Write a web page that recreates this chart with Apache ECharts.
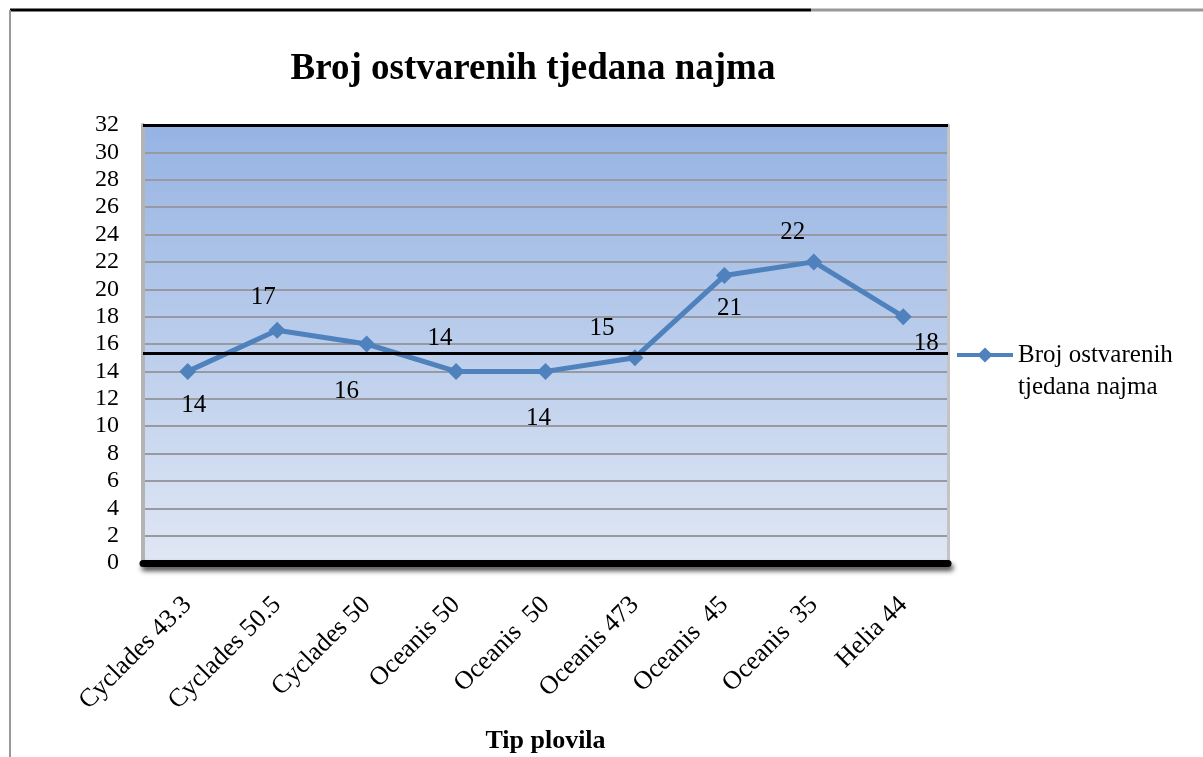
<!DOCTYPE html>
<html>
<head>
<meta charset="utf-8">
<script src="https://cdn.jsdelivr.net/npm/echarts@6/dist/echarts.min.js"></script>
<style>
  html, body { margin: 0; padding: 0; background: #fff; }
  #chart { width: 1203px; height: 757px; }
</style>
</head>
<body>
<div id="chart"></div>
<script>
const categories = ['Cyclades 43.3', 'Cyclades 50.5', 'Cyclades 50', 'Oceanis 50', 'Oceanis  50',
  'Oceanis 473', 'Oceanis  45', 'Oceanis  35', 'Helia 44'];
const weeks = [14, 17, 16, 14, 14, 15, 21, 22, 18];
// where Excel put each data label relative to its point
const labelOffsets = [[6, 34], [-14, -33], [-20, 47], [-16, -33], [-7, 47], [-33, -29], [5, 33], [-21, -29], [23, 27]];
const refLines = [32, 15.3];

const SERIES_NAME = 'Broj ostvarenih tjedana najma';
const FONT = '"Liberation Serif", "DejaVu Serif", serif';
const LINE_BLUE = '#4f81bd';

const chart = echarts.init(document.getElementById('chart'));

chart.setOption({
  backgroundColor: '#fff',
  animation: false,
  title: {
    text: 'Broj ostvarenih tjedana najma',
    left: 528,
    top: 46,
    textAlign: 'center',
    textStyle: { fontFamily: FONT, fontSize: 37, fontWeight: 'bold', color: '#000' },
  },
  legend: {
    orient: 'vertical',
    left: 950,
    top: 302,
    itemWidth: 56,
    itemHeight: 19,
    lineStyle: { width: 4 },
    // blank first line so the icon sits next to the first text line, as in Excel
    formatter: () => ' \nBroj ostvarenih\ntjedana najma',
    textStyle: { fontFamily: FONT, fontSize: 25, color: '#000', lineHeight: 32 },
    data: [SERIES_NAME],
  },
  grid: {
    left: 143,
    right: 255,
    top: 125,
    bottom: 194,
    outerBoundsMode: 'none',
    show: true,
    borderWidth: 0,
    backgroundColor: new echarts.graphic.LinearGradient(0, 0, 0, 1, [
      { offset: 0, color: '#95b3e3' },
      { offset: 1, color: '#e0e7f4' },
    ]),
  },
  xAxis: {
    type: 'category',
    data: categories,
    boundaryGap: true,
    name: 'Tip plovila',
    nameLocation: 'middle',
    nameGap: 165,
    nameTextStyle: { fontFamily: FONT, fontSize: 26, fontWeight: 'bold', color: '#000' },
    axisLine: {
      lineStyle: {
        color: '#000',
        width: 7,
        shadowColor: 'rgba(0,0,0,0.7)',
        shadowBlur: 5,
        shadowOffsetY: 4,
        shadowOffsetX: 2,
      },
    },
    axisTick: { show: false },
    axisLabel: {
      rotate: 45,
      interval: 0,
      margin: 38,
      fontFamily: FONT,
      fontSize: 26,
      color: '#000',
    },
  },
  yAxis: [
    {
      type: 'value',
      min: 0,
      max: 32,
      interval: 2,
      axisLine: { show: true, lineStyle: { color: '#b4b4b4', width: 4 } },
      axisTick: { show: false },
      axisLabel: { fontFamily: FONT, fontSize: 24, color: '#000', margin: 24 },
      splitLine: { lineStyle: { color: '#979aa3', width: 2 } },
    },
    {
      type: 'value',
      position: 'right',
      min: 0,
      max: 32,
      interval: 2,
      axisLine: { show: true, lineStyle: { color: '#c4c4c4', width: 3 } },
      axisTick: { show: false },
      axisLabel: { show: false },
      splitLine: { show: false },
    },
  ],
  graphic: [
    { type: 'line', shape: { x1: 10, y1: 10, x2: 811, y2: 10 }, style: { stroke: '#000', lineWidth: 3 } },
    { type: 'line', shape: { x1: 811, y1: 10, x2: 1203, y2: 10 }, style: { stroke: '#999', lineWidth: 3 } },
    { type: 'line', shape: { x1: 10, y1: 10, x2: 10, y2: 757 }, style: { stroke: '#999', lineWidth: 2 } },
  ],
  series: [
    {
      name: SERIES_NAME,
      type: 'line',
      data: weeks.map((v, i) => ({
        value: v,
        label: { offset: labelOffsets[i] },
      })),
      symbol: 'diamond',
      symbolSize: 17,
      lineStyle: { color: LINE_BLUE, width: 5 },
      itemStyle: { color: LINE_BLUE },
      label: {
        show: true,
        position: 'inside',
        fontFamily: FONT,
        fontSize: 25,
        color: '#000',
      },
      markLine: {
        silent: true,
        symbol: 'none',
        label: { show: false },
        lineStyle: { color: '#000', width: 3, type: 'solid' },
        data: refLines.map((v) => ({ yAxis: v })),
      },
      z: 3,
    },
  ],
});
</script>
</body>
</html>
